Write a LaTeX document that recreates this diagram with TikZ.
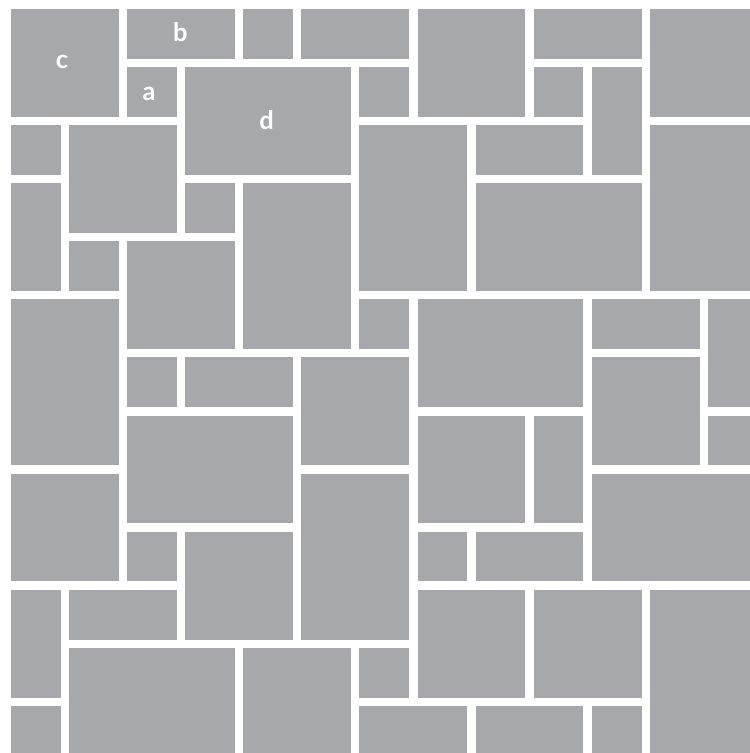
\documentclass[tikz,border=0pt]{standalone}
\usepackage{fontspec}
\setmainfont{Lato}
\usetikzlibrary{positioning}
\definecolor{tilegray}{RGB}{167,168,172}
\newcommand{\gp}{0.143}

\begin{document}
\begin{tikzpicture}[tile/.style={fill=tilegray},
                    lbl/.style={text=white, anchor=base, font=\fontsize{12.5}{12.5}\selectfont\bfseries}]
                % Khung
                \useasboundingbox (-0.189,0.155) rectangle (12.724,-12.81);
                \clip (-0.189,0.155) rectangle (12.724,-12.81);

                % Các viên gạch: x0/x1/y0/y1
                \foreach \xa/\xb/\ya/\yb in {
                    0/2/0/2, 2/4/0/1, 2/3/1/2, 3/6/1/3, 4/5/0/1, 5/7/0/1, 6/7/1/2,
                    7/9/0/2, 9/11/0/1, 9/10/1/2, 10/11/1/3, 11/13/0/2,
                    0/1/2/3, 1/3/2/4, 0/1/3/5, 3/4/3/4, 4/6/3/6, 1/2/4/5, 2/4/4/6,
                    6/8/2/5, 8/10/2/3, 8/11/3/5, 11/13/2/5,
                    0/2/5/8, 6/7/5/6, 7/10/5/7, 10/12/5/6, 12/13/5/7,
                    2/3/6/7, 3/5/6/7, 5/7/6/8, 10/12/6/8,
                    2/5/7/9, 7/9/7/9, 9/10/7/9, 12/13/7/8,
                    0/2/8/10, 5/7/8/11, 10/13/8/10,
                    2/3/9/10, 3/5/9/11, 7/8/9/10, 8/10/9/10,
                    0/1/10/12, 1/3/10/11, 7/9/10/12, 9/11/10/12, 11/13/10/13,
                    1/4/11/13, 4/6/11/13, 6/7/11/12,
                    0/1/12/13, 6/8/12/13, 8/10/12/13, 10/11/12/13}
                    \fill[tile] (\xa,-\ya) rectangle ({\xb-\gp},{-(\yb-\gp)});

                % Nhãn
                \node[lbl] (c) at (0.878,-1.016) {c};
                \node[lbl] (b) at (2.918,-0.568) {b};
                \node[lbl] (a) at (2.376,-1.567) {a};
                \node[lbl] (d) at (4.40,-2.083) {d};
            \end{tikzpicture}
\end{document}
